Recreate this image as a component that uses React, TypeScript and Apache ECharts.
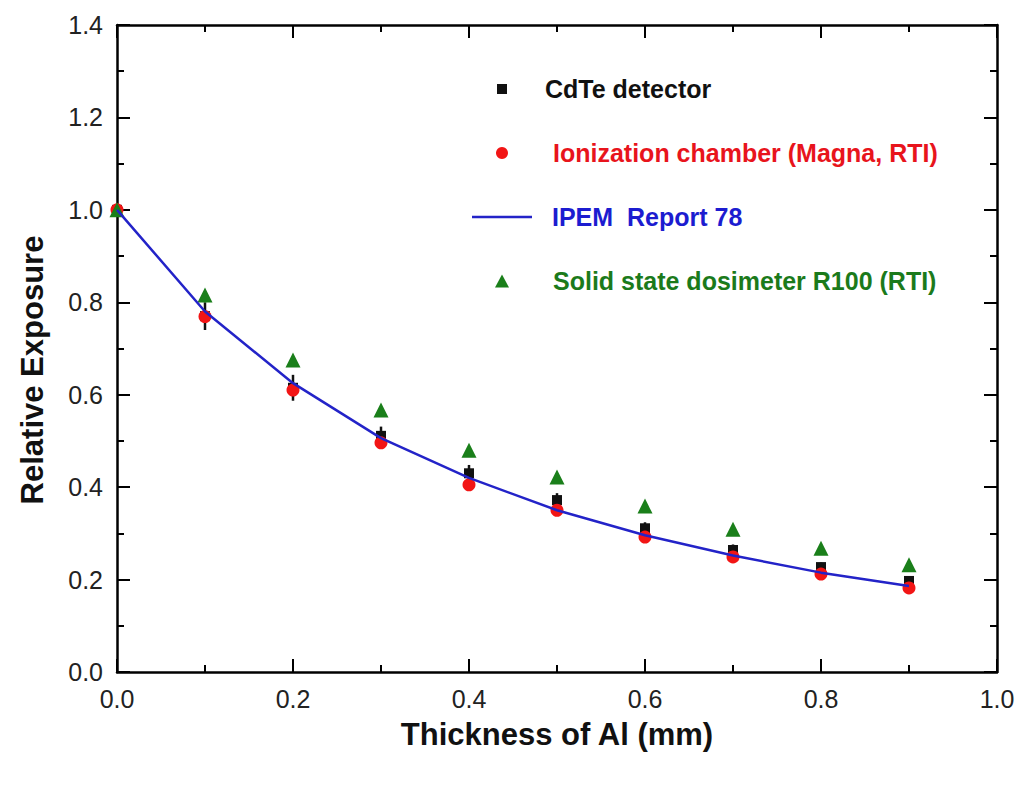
import { useEffect, useRef } from 'react';
import * as echarts from 'echarts';

const FONT = '"Liberation Sans", Arial, sans-serif';

// thickness of Al (mm)
const thickness = [0, 0.1, 0.2, 0.3, 0.4, 0.5, 0.6, 0.7, 0.8, 0.9];
const cdte = [1.0, 0.77, 0.615, 0.511, 0.43, 0.372, 0.311, 0.264, 0.227, 0.197];
const cdteErr = [0.0, 0.03, 0.028, 0.02, 0.018, 0.015, 0.013, 0.012, 0.01, 0.01];
const ionization = [1.0, 0.769, 0.61, 0.496, 0.405, 0.35, 0.292, 0.249, 0.212, 0.182];
const ipem = [1.0, 0.78, 0.625, 0.506, 0.42, 0.35, 0.296, 0.252, 0.215, 0.186];
const solid = [1.0, 0.816, 0.675, 0.567, 0.48, 0.422, 0.359, 0.309, 0.268, 0.232];

const NAME_CDTE = 'CdTe detector';
const NAME_ION = 'Ionization chamber (Magna, RTI)';
const NAME_IPEM = 'IPEM  Report 78';
const NAME_SOLID = 'Solid state dosimeter R100 (RTI)';

const pairs = (ys: number[]) => thickness.map((x, i) => [x, ys[i]]);

function legendItem(
  name: string,
  color: string,
  left: number,
  centerY: number,
  w: number,
  h: number,
  padLeft: number,
  icon?: string,
) {
  return {
    data: [icon ? { name, icon } : name],
    left,
    top: centerY - 14,
    orient: 'vertical',
    padding: 0,
    itemWidth: w,
    itemHeight: h,
    selectedMode: false,
    textStyle: {
      color,
      fontSize: 25,
      fontWeight: 'bold',
      fontFamily: FONT,
      lineHeight: 28,
      padding: [0, 0, 0, padLeft],
    },
  };
}

export default function App() {
  const ref = useRef<HTMLDivElement>(null);

  useEffect(() => {
    if (!ref.current) return;
    const chart = echarts.init(ref.current, null, { renderer: 'svg' });

    const axisLine = { show: true, onZero: false, lineStyle: { color: '#000', width: 2.5 } };
    const axisTick = { show: true, inside: true, length: 13, lineStyle: { color: '#000', width: 2 } };
    const minorTick = { show: true, splitNumber: 2, length: 7, lineStyle: { color: '#000', width: 2 } };
    const axisLabel = {
      fontSize: 25,
      color: '#222',
      fontFamily: FONT,
      margin: 14,
      formatter: (v: number) => v.toFixed(1),
    };

    chart.setOption({
      animation: false,
      backgroundColor: '#fff',
      grid: { left: 117, right: 27, top: 25, bottom: 113 },
      xAxis: [
        {
          type: 'value',
          min: 0,
          max: 1,
          interval: 0.2,
          position: 'bottom',
          axisLine,
          axisTick,
          minorTick,
          splitLine: { show: false },
          axisLabel,
          name: 'Thickness of Al (mm)',
          nameLocation: 'middle',
          nameGap: 47,
          nameTextStyle: { fontSize: 31, fontWeight: 'bold', fontFamily: FONT, color: '#111' },
        },
        {
          type: 'value',
          min: 0,
          max: 1,
          interval: 0.2,
          position: 'top',
          axisLine,
          axisTick,
          minorTick,
          splitLine: { show: false },
          axisLabel: { show: false },
        },
      ],
      yAxis: [
        {
          type: 'value',
          min: 0,
          max: 1.4,
          interval: 0.2,
          position: 'left',
          axisLine,
          axisTick,
          minorTick,
          splitLine: { show: false },
          axisLabel,
          name: 'Relative Exposure',
          nameLocation: 'middle',
          nameGap: 69,
          nameTextStyle: {
            fontSize: 31,
            fontWeight: 'bold',
            fontFamily: FONT,
            color: '#111',
            padding: [0, 43, 0, 0],
          },
        },
        {
          type: 'value',
          min: 0,
          max: 1.4,
          interval: 0.2,
          position: 'right',
          axisLine,
          axisTick,
          minorTick,
          splitLine: { show: false },
          axisLabel: { show: false },
        },
      ],
      legend: [
        legendItem(NAME_CDTE, '#111', 497, 89, 10, 10, 33),
        legendItem(NAME_ION, '#e8141c', 496, 153, 12, 12, 40),
        legendItem(NAME_IPEM, '#1c1cd0', 472, 217, 60, 2.5, 15, 'rect'),
        legendItem(NAME_SOLID, '#1b7a1b', 495, 281, 14, 13, 39),
      ],
      series: [
        {
          name: 'cdte-err',
          type: 'custom',
          silent: true,
          z: 1,
          data: thickness.map((x, i) => [x, cdte[i], cdteErr[i]]),
          renderItem: (_params: any, api: any) => {
            const x = api.value(0);
            const y = api.value(1);
            const e = api.value(2);
            const p1 = api.coord([x, y - e]);
            const p2 = api.coord([x, y + e]);
            return {
              type: 'line',
              shape: { x1: p1[0], y1: p1[1], x2: p2[0], y2: p2[1] },
              style: { stroke: '#111', lineWidth: 2.5 },
            };
          },
        },
        {
          name: NAME_CDTE,
          type: 'scatter',
          symbol: 'rect',
          symbolSize: 10,
          z: 2,
          itemStyle: { color: '#111', opacity: 1 },
          data: pairs(cdte),
        },
        {
          name: NAME_ION,
          type: 'scatter',
          symbol: 'circle',
          symbolSize: 13,
          z: 3,
          itemStyle: { color: '#f21515', opacity: 1 },
          data: pairs(ionization),
        },
        {
          name: NAME_SOLID,
          type: 'scatter',
          symbol: 'triangle',
          symbolSize: 15,
          z: 3,
          itemStyle: { color: '#1a7f1a', opacity: 1 },
          data: pairs(solid),
        },
        {
          name: NAME_IPEM,
          type: 'line',
          symbol: 'none',
          showSymbol: false,
          z: 4,
          lineStyle: { color: '#2323c8', width: 2.5 },
          itemStyle: { color: '#2323c8' },
          data: pairs(ipem),
        },
      ],
    });

    return () => chart.dispose();
  }, []);

  return (
    <div
      ref={ref}
      style={{ position: 'absolute', left: 0, top: 0, width: 1024, height: 785, background: '#fff' }}
    />
  );
}
